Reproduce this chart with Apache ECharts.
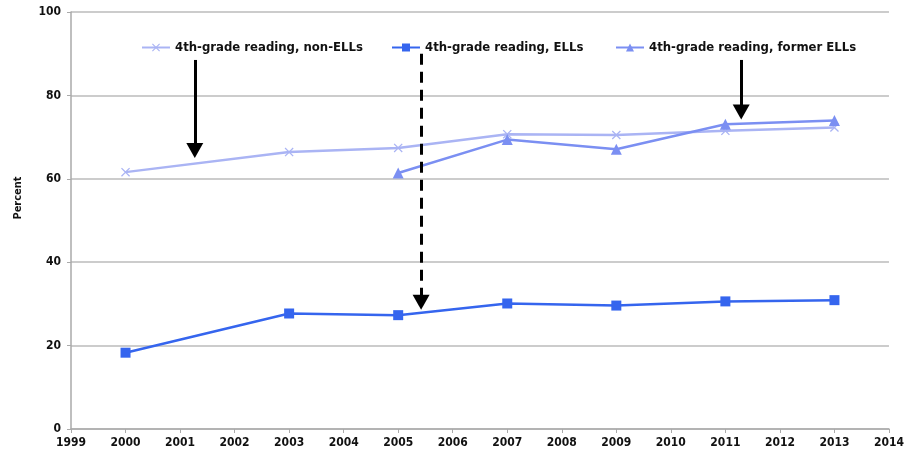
<!DOCTYPE html>
<html>
<head>
<meta charset="utf-8">
<script src="https://cdn.jsdelivr.net/npm/echarts@6/dist/echarts.min.js"></script>
<style>
  html, body { margin: 0; padding: 0; background: #fff; }
  #main { width: 907px; height: 457px; }
</style>
</head>
<body>
<div id="main"></div>
<script>
var years = [2000, 2003, 2005, 2007, 2009, 2011, 2013];
var nonElls = [61.6, 66.4, 67.4, 70.7, 70.5, 71.5, 72.3];
var ells = [18.3, 27.7, 27.3, 30.1, 29.6, 30.6, 30.9];
var formerElls = [null, null, 61.4, 69.4, 67.1, 73.1, 74.0];
var seriesNames = ['4th-grade reading, non-ELLs', '4th-grade reading, ELLs', '4th-grade reading, former ELLs'];
// arrows: [x, yStart, yEnd, dashed]
var arrows = [
    [2001.27, 88.5, 66.8, false],
    [2005.42, 90.0, 30.4, true],
    [2011.29, 88.5, 76.0, false]
];

function pairs(vals) {
    var out = [];
    for (var i = 0; i < years.length; i++) {
        if (vals[i] != null) out.push([years[i], vals[i]]);
    }
    return out;
}

var dom = document.getElementById('main');
var myChart = echarts.init(dom);
var font = '"DejaVu Sans Condensed", "DejaVu Sans", sans-serif';
var crossPath = 'path://M0,1L1,0L5,4L9,0L10,1L6,5L10,9L9,10L5,6L1,10L0,9L4,5Z';

var arrowLines = arrows.map(function (a) {
    return [
        { coord: [a[0], a[1]], lineStyle: { type: a[3] ? [11, 7] : 'solid' } },
        { coord: [a[0], a[2]] }
    ];
});

function legendAt(left, name) {
    return {
        left: left,
        top: 36,
        data: [name],
        itemWidth: 28,
        itemHeight: 10,
        textStyle: { fontFamily: font, fontWeight: 'bold', fontSize: 13, color: '#111' },
        selectedMode: false
    };
}

var option = {
    animation: false,
    backgroundColor: '#fff',
    grid: { left: 71, right: 15, top: 12, bottom: 28 },
    legend: [
        legendAt(136, seriesNames[0]),
        legendAt(386, seriesNames[1]),
        legendAt(610, seriesNames[2])
    ],
    xAxis: {
        type: 'value',
        min: 1999,
        max: 2014,
        interval: 1,
        splitLine: { show: false },
        axisLine: { lineStyle: { color: '#aaa', width: 1.5 } },
        axisTick: { show: true, length: 4, lineStyle: { color: '#aaa' } },
        axisLabel: {
            fontFamily: font, fontWeight: 'bold', fontSize: 12, color: '#111', margin: 8,
            formatter: function (v) { return String(v); }
        }
    },
    yAxis: {
        type: 'value',
        min: 0,
        max: 100,
        interval: 20,
        name: 'Percent',
        nameLocation: 'middle',
        nameGap: 47,
        nameTextStyle: { fontFamily: font, fontWeight: 'bold', fontSize: 11, color: '#111', padding: [0, 0, 0, 45] },
        axisLine: { show: true, lineStyle: { color: '#aaa', width: 1.5 } },
        axisTick: { show: true, length: 4, lineStyle: { color: '#aaa' } },
        splitLine: { lineStyle: { color: '#bbb', width: 1.5 } },
        axisLabel: { fontFamily: font, fontWeight: 'bold', fontSize: 12, color: '#111', margin: 10 }
    },
    series: [
        {
            name: seriesNames[0],
            type: 'line',
            data: pairs(nonElls),
            symbol: crossPath,
            symbolSize: 9,
            color: '#aab4f4',
            lineStyle: { width: 2.5, color: '#aab4f4' },
            z: 2
        },
        {
            name: seriesNames[1],
            type: 'line',
            data: pairs(ells),
            symbol: 'rect',
            symbolSize: 10,
            color: '#3565ee',
            lineStyle: { width: 2.5, color: '#3565ee' },
            z: 3,
            markLine: {
                silent: true,
                symbol: ['none', 'triangle'],
                symbolSize: [17, 15],
                symbolRotate: 180,
                label: { show: false },
                itemStyle: { color: '#000' },
                lineStyle: { color: '#000', width: 3 },
                data: arrowLines,
                z: 10
            }
        },
        {
            name: seriesNames[2],
            type: 'line',
            data: pairs(formerElls),
            symbol: 'triangle',
            symbolSize: 11,
            color: '#7b8ff2',
            lineStyle: { width: 2.5, color: '#7b8ff2' },
            z: 4
        }
    ]
};

if (option && typeof option === 'object') {
    myChart.setOption(option, true);
}
</script>
</body>
</html>
